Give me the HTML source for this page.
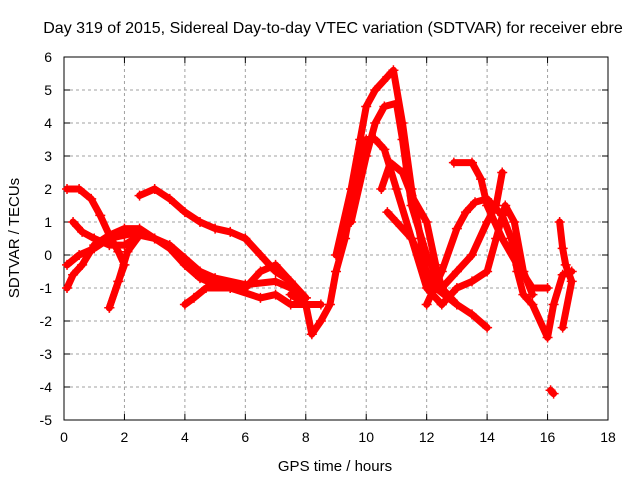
<!DOCTYPE html>
<html><head><meta charset="utf-8"><style>
body{margin:0;background:#fff;}
svg{display:block;font-family:"Liberation Sans",sans-serif;}
</style></head><body>
<svg width="640" height="480">
<g id="grid"></g>
<g id="axes"></g>
<g id="series"></g>
<text x="333" y="33" text-anchor="middle" font-size="16">Day 319 of 2015, Sidereal Day-to-day VTEC variation (SDTVAR) for receiver ebre</text>
<text x="335" y="471" text-anchor="middle" font-size="15">GPS time / hours</text>
<text transform="translate(19,238) rotate(-90)" text-anchor="middle" font-size="15">SDTVAR / TECUs</text>
</svg>
<script>
const xTicks=[0,2,4,6,8,10,12,14,16,18];
const yTicks=[6,5,4,3,2,1,0,-1,-2,-3,-4,-5];
const track1=[[0.1,2.0],[0.5,2.0],[0.9,1.7],[1.2,1.2],[1.5,0.6],[1.8,0.1],[2.0,-0.3],[1.8,-0.8],[1.5,-1.6]];
const track2=[[1.5,-1.6],[1.8,-0.8],[2.1,0.1],[2.5,0.6],[3.0,0.5],[3.5,0.3],[4.0,-0.1],[4.5,-0.5],[5,-0.7],[6,-0.9],[7,-0.8],[7.5,-1.0],[8.0,-1.3]];
const track3=[[0.1,-1.0],[0.3,-0.6],[0.6,-0.3],[1.0,0.3],[1.5,0.6],[2.0,0.8],[2.5,0.8],[3.0,0.5],[3.5,0.2],[4,-0.3],[4.5,-0.7],[5,-0.9],[5.5,-1.0],[6,-1.0],[6.5,-0.5],[7,-0.3],[7.5,-0.8]];
const track4=[[0.1,-0.3],[0.5,0.0],[1.0,0.2],[1.5,0.5],[2.0,0.6],[2.5,0.7]];
const track5=[[0.3,1.0],[0.6,0.7],[1.0,0.5],[1.5,0.3],[2.0,0.3],[2.5,0.6]];
const track6=[[2.5,1.8],[3.0,2.0],[3.5,1.7],[4.0,1.3],[4.5,1.0],[5,0.8],[5.5,0.7],[6,0.5],[6.5,0.0],[7,-0.5],[7.5,-0.8],[8,-1.3]];
const track7=[[4,-1.5],[4.3,-1.3],[4.7,-1.0],[5.5,-1.0],[6.5,-1.3],[7,-1.2],[7.5,-1.5],[8,-1.5],[8.5,-1.5]];
const track8=[[7.5,-1.2],[8,-1.5],[8.2,-2.4],[8.5,-2.0],[8.8,-1.5],[9,-0.5],[9.3,0.5],[9.5,1.5],[9.8,3.0],[10,3.5],[10.3,3.5],[10.6,3.2],[11,2],[11.5,0.5],[12,-1.0],[12.5,-1.5]];
const track9=[[9,0],[9.5,2],[9.8,3.5],[10,4.5],[10.3,5],[10.7,5.4],[10.9,5.6],[11.2,4],[11.5,2],[11.8,0.5],[12,-0.8],[12.3,-1.0],[13,-1.5]];
const track10=[[9.5,1],[10,3],[10.3,4],[10.6,4.5],[11,4.6],[11.2,3.5],[11.5,1.5],[12,0],[12.5,-1],[13,-1.5],[13.5,-1.8],[14,-2.2]];
const track11=[[10.5,2],[10.8,2.8],[11.2,2.5],[11.5,1.8],[12,1.0],[12.3,-0.3],[12.5,-1]];
const track12=[[10.7,1.3],[11,1.0],[11.5,0.5],[12,-0.5],[12.5,-1.0],[13,-0.5],[13.5,0],[14,1],[14.3,1.5],[14.5,2.5]];
const track13=[[12.9,2.8],[13.5,2.8],[13.8,2.3],[14,1.5],[14.5,0.5],[15,-0.3],[15.5,-1.0],[16,-1.0]];
const track14=[[12,-1.5],[12.5,-0.5],[13,0.8],[13.3,1.3],[13.6,1.6],[14,1.7],[14.5,1.2],[14.8,0.5],[15,-0.5],[15.2,-1.2],[15.5,-1.5],[16,-2.5],[16.2,-1.5],[16.5,-0.6],[16.8,-0.5]];
const track15=[[12.5,-1.5],[13,-1.0],[13.5,-0.8],[14,-0.5],[14.3,0.5],[14.6,1.5],[14.9,1.0],[15.2,-0.5],[15.5,-1.2]];
const track16=[[16.4,1.0],[16.5,0.2],[16.6,-0.3],[16.8,-0.8],[16.5,-2.2]];
const track17=[[16.1,-4.1],[16.2,-4.2]];
const tracks=[track1,track2,track3,track4,track5,track6,track7,track8,track9,track10,track11,track12,track13,track14,track15,track16,track17];
const X0=64,X1=608,Y0=420,Y1=57;
const sx=v=>X0+(v-0)/(18-0)*(X1-X0);
const sy=v=>Y0-(v+5)/(6+5)*(Y0-Y1);
const NS="http://www.w3.org/2000/svg";
function mk(t,a,p){const e=document.createElementNS(NS,t);for(const k in a)e.setAttribute(k,a[k]);p.appendChild(e);return e;}
const grid=document.getElementById('grid'),axes=document.getElementById('axes'),ser=document.getElementById('series');
xTicks.forEach(t=>{const x=sx(t);
 if(t>0&&t<18){const l=mk('line',{x1:x,x2:x,y1:Y1,y2:Y0,stroke:'#a0a0a0','stroke-dasharray':'3,3'},grid);
 
 }
 mk('line',{x1:x,x2:x,y1:Y0,y2:Y0-6,stroke:'#000'},axes);mk('line',{x1:x,x2:x,y1:Y1,y2:Y1+6,stroke:'#000'},axes);
 const tx=mk('text',{x:x,y:Y0+22,'text-anchor':'middle','font-size':'14'},axes);tx.textContent=t;
 
 });
yTicks.forEach(t=>{const y=sy(t);
 if(t>-5&&t<6){const l=mk('line',{x1:X0,x2:X1,y1:y,y2:y,stroke:'#a0a0a0','stroke-dasharray':'3,3'},grid);
 
 }
 mk('line',{x1:X0,x2:X0+6,y1:y,y2:y,stroke:'#000'},axes);mk('line',{x1:X1,x2:X1-6,y1:y,y2:y,stroke:'#000'},axes);
 const tx=mk('text',{x:X0-12,y:y+5,'text-anchor':'end','font-size':'14'},axes);tx.textContent=t;
 
 });
mk('rect',{x:X0,y:Y1,width:X1-X0,height:Y0-Y1,fill:'none',stroke:'#000'},axes);
tracks.forEach((tr,i)=>{
 const pl=mk('polyline',{points:tr.map(p=>sx(p[0])+','+sy(p[1])).join(' '),fill:'none',stroke:'#f00','stroke-width':'7','stroke-linejoin':'round','stroke-linecap':'round'},ser);
 
 
 tr.forEach(p=>{const x=sx(p[0]),y=sy(p[1]);
  const m=mk('path',{d:`M${x-5},${y}H${x+5}M${x},${y-5}V${y+5}`,stroke:'#f00','stroke-width':'1.5'},ser);
  
  });
});
</script>
</body></html>
